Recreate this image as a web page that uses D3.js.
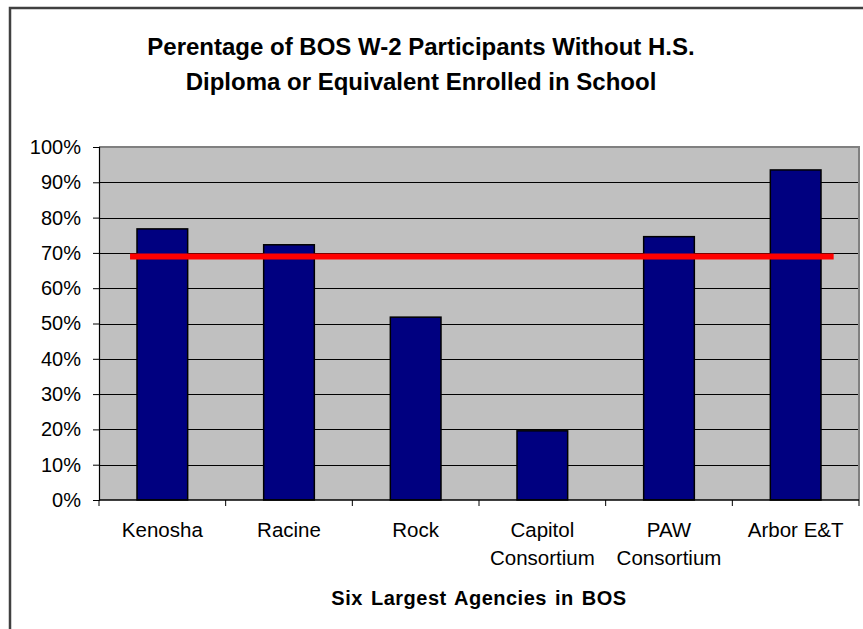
<!DOCTYPE html>
<html><head><meta charset="utf-8">
<script src="https://cdn.jsdelivr.net/npm/d3@7"></script>
<style>body{margin:0;background:#fff}svg{display:block}text{font-family:"Liberation Sans",Arial,sans-serif}</style>
</head><body><svg id="c" width="863" height="629"></svg>
<script>
const categories = ["Kenosha","Racine","Rock","Capitol\nConsortium","PAW\nConsortium","Arbor E&T"];
const values = [0.768, 0.723, 0.518, 0.196, 0.746, 0.935];
const targetValue = 0.69;
const yTicks = [0,0.1,0.2,0.3,0.4,0.5,0.6,0.7,0.8,0.9,1.0];
const titleLines = ["Perentage of BOS W-2 Participants Without H.S.","Diploma or Equivalent Enrolled in School"];
const xTitle = "Six Largest Agencies in BOS";

const svg = d3.select("#c");
const L=99,R=859,T=147,B=500;
svg.append("rect").attr("x",10).attr("y",8).attr("width",900).attr("height",700)
  .attr("fill","#fff").attr("stroke","#404040").attr("stroke-width",2.5);

const x = d3.scaleBand().domain(categories).range([L,R]).paddingInner(0.6).paddingOuter(0.3);
const xs = d3.scaleBand().domain(categories).range([L,R]).padding(0);
const y = d3.scaleLinear().domain([0,1]).range([B,T]);

svg.append("rect").attr("x",L).attr("y",T).attr("width",R-L).attr("height",B-T).attr("fill","#c0c0c0");
svg.append("g").selectAll("line").data(yTicks.slice(1,-1)).join("line")
  .attr("x1",L).attr("x2",R).attr("y1",d=>Math.round(y(d))+0.5).attr("y2",d=>Math.round(y(d))+0.5)
  .attr("stroke","#000").attr("stroke-width",1);
svg.append("path").attr("d",`M${L},${T}H${R}V${B}`).attr("fill","none").attr("stroke","#808080").attr("stroke-width",2);

svg.append("g").selectAll("rect").data(categories).join("rect")
  .attr("x",d=>x(d)).attr("width",x.bandwidth())
  .attr("y",(d,i)=>y(values[i])).attr("height",(d,i)=>B-y(values[i]))
  .attr("fill","#000080").attr("stroke","#000").attr("stroke-width",1.5);

svg.append("line")
  .attr("x1",xs(categories[0])+xs.step()*0.245)
  .attr("x2",xs(categories[categories.length-1])+xs.step()*0.80)
  .attr("y1",y(targetValue)).attr("y2",y(targetValue))
  .attr("stroke","#ff0000").attr("stroke-width",6);

const ya = svg.append("g").attr("transform",`translate(${L},0)`)
  .call(d3.axisLeft(y).tickValues(yTicks).tickFormat(d3.format(".0%")).tickSize(6).tickPadding(12));
ya.select(".domain").attr("stroke","#000").attr("stroke-width",1.2);
ya.selectAll("text").attr("font-size",20).attr("fill","#000").style("font-family","Liberation Sans, Arial, sans-serif");

const xa = svg.append("g").attr("transform",`translate(0,${B})`);
xa.append("line").attr("x1",L).attr("x2",R).attr("y1",0).attr("y2",0).attr("stroke","#000").attr("stroke-width",1.5);
xa.selectAll("line.t").data(categories.concat(["_end"])).join("line").attr("class","t")
  .attr("x1",(d,i)=>L+i*xs.step()).attr("x2",(d,i)=>L+i*xs.step()).attr("y1",0).attr("y2",6)
  .attr("stroke","#000");
xa.selectAll("text.cat").data(categories).join("text").attr("class","cat")
  .attr("text-anchor","middle").attr("font-size",20.5)
  .each(function(d){
    const t=d3.select(this); const cx=xs(d)+xs.step()/2;
    d.split("\n").forEach((s,k)=>t.append("tspan").attr("x",cx).attr("y",37+k*28).text(s));
  });

svg.append("text").attr("x",479).attr("y",605).attr("text-anchor","middle")
  .attr("font-size",20).attr("font-weight","bold")
  .style("letter-spacing","0.5px").style("word-spacing","2px").text(xTitle);

svg.append("text").attr("text-anchor","middle").attr("font-size",24).attr("font-weight","bold")
  .selectAll("tspan").data(titleLines).join("tspan").attr("x",421).attr("y",(d,i)=>55+i*35).text(d=>d);
</script></body></html>
